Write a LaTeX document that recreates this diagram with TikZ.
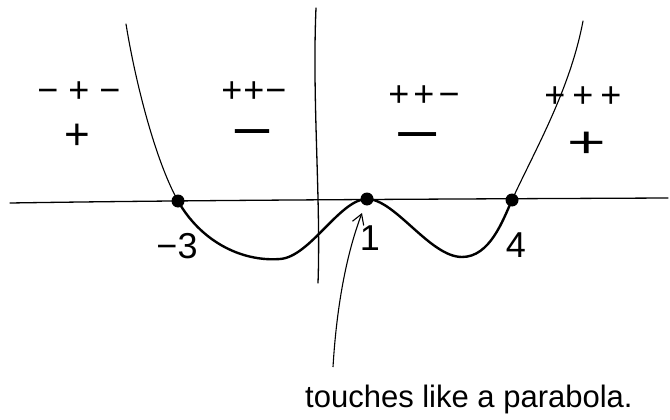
\documentclass[tikz,border=0pt]{standalone}
\usepackage{fontspec}
\setmainfont{Liberation Sans}
\usetikzlibrary{arrows.meta}
\begin{document}
\begin{tikzpicture}[x=1pt,y=-1pt,
  thincurve/.style={line width=1.1pt, line cap=round},
  thickcurve/.style={line width=2.4pt, line cap=round},
  axisline/.style={line width=1.3pt, line cap=round},
  rootdot/.style={circle, fill=black, inner sep=0pt, minimum size=13pt},
  signs/.style={font=\fontsize{36}{36}\selectfont, inner sep=0pt},
  bigplus/.style={font=\fontsize{44}{44}\selectfont, inner sep=0pt},
  bigsign/.style={font=\fontsize{36}{36}\selectfont\bfseries, inner sep=0pt},
  numlabel/.style={font=\fontsize{36}{36}\selectfont, inner sep=0pt},
  note/.style={font=\fontsize{31}{31}\selectfont, inner sep=0pt}]
\useasboundingbox (0,0) rectangle (670,420);
% axes
\coordinate (xl) at (10,203);
\coordinate (xr) at (668,198);
\draw[axisline] (xl) .. controls (200,200) and (450,199) .. (xr);
\coordinate (yt) at (316,8);
\coordinate (yb) at (318,283);
\draw[axisline] (yt) .. controls (312,100) and (321,200) .. (yb);
% roots
\coordinate (cl) at (126,24);
\coordinate (r1) at (178,201);
\coordinate (r2) at (367,199);
\coordinate (r3) at (512,200);
\coordinate (cr) at (583,21);
\coordinate (m1) at (280,259);
\coordinate (m2) at (462,257);
% curve
\draw[thincurve] (cl) .. controls (135,80) and (155,160) .. (r1);
\draw[thickcurve] (r1) .. controls (200,240) and (240,262) .. (m1)
  .. controls (310,257) and (340,199) .. (r2)
  .. controls (395,199) and (430,257) .. (m2)
  .. controls (490,257) and (503,220) .. (r3);
\draw[thincurve] (r3) .. controls (535,150) and (570,90) .. (cr);
\node[rootdot] (d1) at (r1) {};
\node[rootdot] (d2) at (r2) {};
\node[rootdot] (d3) at (r3) {};
% sign labels
\node[signs] (s1a) at (79,92) {−\kern10pt+\kern10pt−};
\node[bigplus] (s1b) at (77,137) {+};
\node[signs] (s2a) at (254,92) {+\kern1pt+\kern1pt−};
\node[bigsign] (s2b) at (252,137) {\scalebox{1.9}[1]{−}};
\node[signs] (s3a) at (424,96) {+\kern4pt+\kern4pt−};
\node[bigsign] (s3b) at (418,140) {\scalebox{2.1}[1]{−}};
\node[signs] (s4a) at (583,97) {+\kern7pt+\kern7pt+};
\node[bigplus] (s4b) at (587,145) {\scalebox{1.5}[1]{+}};
% root labels
\node[numlabel] (lm3) at (177,246) {−3};
\node[numlabel] (l1) at (370,238) {1};
\node[numlabel] (l4) at (516,245) {4};
% note and arrow
\node[note, anchor=base west] (nt) at (305,407) {touches like a parabola.};
\coordinate (atail) at (333,367);
\coordinate (atip) at (362,213);
\draw[line width=1.1pt, -{Straight Barb[length=10pt,width=12pt]}] (atail) .. controls (337,300) and (348,250) .. (atip);
\end{tikzpicture}
\end{document}
